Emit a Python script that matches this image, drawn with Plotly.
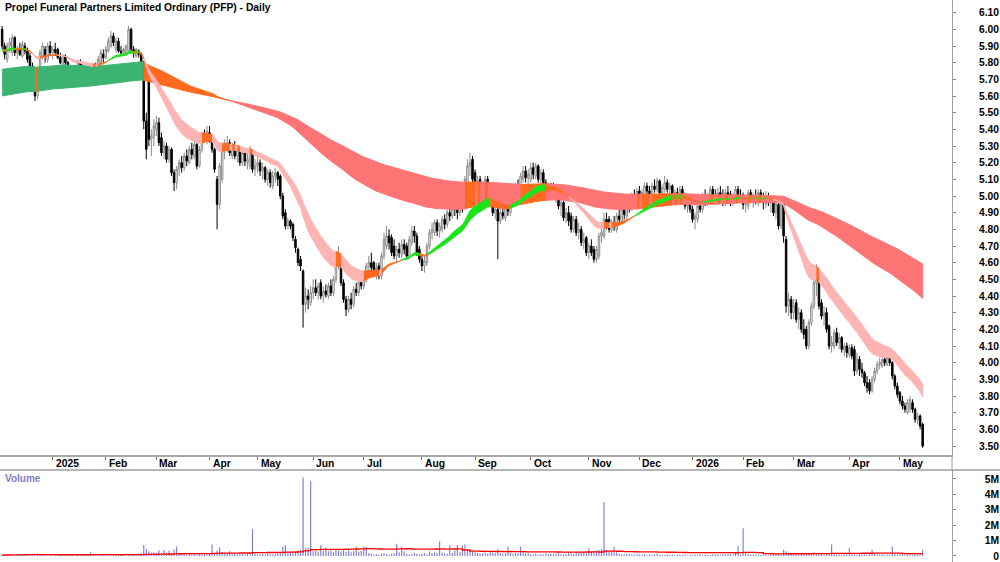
import pandas as pd
import numpy as np
import plotly.graph_objects as go

# ---------------- data ----------------
title_text = "Propel Funeral Partners Limited Ordinary (PFP) - Daily"
asx_holidays = ['2024-12-25', '2024-12-26', '2025-01-01', '2025-01-27', '2025-04-18', '2025-04-21',
                '2025-04-25', '2025-06-09', '2025-12-25', '2025-12-26', '2026-01-01', '2026-01-26',
                '2026-04-03', '2026-04-06']
first_day, last_day = '2024-12-02', '2026-05-14'

# daily (open, high, low, close) per month
ohlc_2024_12 = [(6.00,6.02,5.88,5.90),(5.90,5.92,5.82,5.85),(5.82,5.92,5.80,5.90),(5.90,5.95,5.86,5.92),(5.86,5.97,5.84,5.95),
                (5.95,5.96,5.84,5.86),(5.86,5.90,5.82,5.88),(5.88,5.92,5.84,5.85),(5.84,5.93,5.83,5.91),(5.90,5.92,5.85,5.87),
                (5.87,5.89,5.80,5.82),(5.84,5.86,5.76,5.78),(5.78,5.80,5.70,5.72),(5.72,5.74,5.57,5.60),(5.60,5.75,5.58,5.73),
                (5.74,5.88,5.72,5.86),(5.84,5.92,5.82,5.90),(5.88,5.90,5.80,5.84),(5.82,5.92,5.80,5.90),(5.90,5.93,5.84,5.86)]
ohlc_2025_01 = [(5.86,5.90,5.82,5.88),(5.88,5.92,5.84,5.86),(5.88,5.89,5.82,5.83),(5.83,5.86,5.79,5.80),(5.79,5.85,5.78,5.84),
                (5.84,5.85,5.78,5.80),(5.80,5.81,5.72,5.74),(5.75,5.76,5.68,5.70),(5.74,5.76,5.67,5.69),(5.69,5.78,5.68,5.76),
                (5.74,5.82,5.73,5.80),(5.80,5.82,5.74,5.76),(5.76,5.79,5.71,5.73),(5.73,5.78,5.71,5.76),(5.76,5.78,5.72,5.74),
                (5.77,5.79,5.72,5.73),(5.73,5.80,5.72,5.78),(5.78,5.80,5.75,5.77),(5.77,5.84,5.76,5.82),(5.80,5.88,5.79,5.86),
                (5.85,5.88,5.80,5.83)]
ohlc_2025_02 = [(5.83,5.90,5.82,5.88),(5.87,5.95,5.86,5.93),(5.90,5.99,5.89,5.96),(5.96,5.98,5.90,5.92),(5.88,5.95,5.86,5.93),
                (5.93,5.95,5.86,5.87),(5.87,5.90,5.84,5.86),(5.86,5.89,5.84,5.88),(5.86,5.91,5.85,5.90),(5.87,6.02,5.86,6.00),
                (6.00,6.01,5.86,5.88),(5.88,5.90,5.83,5.86),(5.84,5.89,5.83,5.88),(5.87,5.88,5.83,5.85),(5.85,5.86,5.76,5.78),
                (5.80,5.81,5.40,5.45),(5.45,5.50,5.22,5.28),(5.75,5.78,5.30,5.34),(5.34,5.40,5.24,5.36),(5.36,5.46,5.30,5.42)]
ohlc_2025_03 = [(5.40,5.48,5.36,5.44),(5.44,5.47,5.30,5.32),(5.35,5.38,5.24,5.26),(5.26,5.33,5.22,5.30),(5.30,5.32,5.20,5.22),
                (5.22,5.30,5.20,5.28),(5.28,5.29,5.12,5.14),(5.14,5.16,5.03,5.08),(5.08,5.18,5.04,5.16),(5.16,5.22,5.12,5.20),
                (5.20,5.24,5.14,5.17),(5.17,5.26,5.15,5.24),(5.24,5.28,5.18,5.21),(5.20,5.30,5.19,5.28),(5.28,5.32,5.22,5.25),
                (5.24,5.33,5.22,5.31),(5.31,5.32,5.16,5.18),(5.18,5.30,5.17,5.28),(5.28,5.38,5.26,5.36),(5.36,5.40,5.32,5.34),
                (5.33,5.42,5.31,5.39)]
ohlc_2025_04 = [(5.38,5.42,5.32,5.35),(5.35,5.37,5.26,5.28),(5.28,5.29,5.14,5.16),(5.10,5.12,4.80,4.95),(4.95,5.20,4.92,5.18),
                (5.10,5.30,5.08,5.27),(5.27,5.34,5.22,5.30),(5.30,5.36,5.26,5.32),(5.32,5.34,5.24,5.26),(5.24,5.32,5.22,5.30),
                (5.30,5.33,5.22,5.24),(5.24,5.30,5.20,5.28),(5.28,5.30,5.18,5.20),(5.20,5.28,5.18,5.26),(5.26,5.28,5.18,5.21),
                (5.20,5.26,5.16,5.22),(5.18,5.30,5.16,5.27),(5.27,5.28,5.14,5.16),(5.16,5.22,5.12,5.18)]
ohlc_2025_05 = [(5.18,5.24,5.14,5.20),(5.20,5.22,5.12,5.15),(5.15,5.20,5.10,5.17),(5.17,5.18,5.08,5.10),(5.10,5.16,5.06,5.14),
                (5.14,5.16,5.05,5.08),(5.06,5.15,5.04,5.12),(5.12,5.17,5.08,5.14),(5.14,5.15,5.06,5.10),(5.12,5.13,4.98,5.00),
                (5.00,5.02,4.86,4.88),(4.90,4.92,4.80,4.82),(4.82,4.87,4.80,4.85),(4.85,4.86,4.80,4.82),(4.83,4.84,4.73,4.75),
                (4.74,4.76,4.66,4.69),(4.68,4.69,4.58,4.60),(4.62,4.64,4.55,4.58),(4.55,4.56,4.21,4.35),(4.35,4.45,4.30,4.40),
                (4.40,4.44,4.32,4.38),(4.36,4.46,4.34,4.42)]
ohlc_2025_06 = [(4.42,4.50,4.38,4.45),(4.45,4.50,4.40,4.42),(4.42,4.48,4.38,4.46),(4.48,4.50,4.38,4.40),(4.40,4.46,4.36,4.43),
                (4.43,4.47,4.39,4.41),(4.40,4.48,4.38,4.46),(4.46,4.50,4.40,4.42),(4.42,4.52,4.40,4.50),(4.50,4.64,4.48,4.60),
                (4.60,4.70,4.56,4.62),(4.62,4.64,4.46,4.48),(4.48,4.50,4.36,4.38),(4.38,4.40,4.28,4.32),(4.32,4.40,4.30,4.38),
                (4.38,4.42,4.32,4.35),(4.35,4.46,4.33,4.44),(4.44,4.48,4.40,4.42),(4.42,4.50,4.40,4.48),(4.48,4.52,4.44,4.46)]
ohlc_2025_07 = [(4.46,4.54,4.44,4.52),(4.50,4.60,4.48,4.58),(4.58,4.64,4.54,4.60),(4.60,4.66,4.55,4.57),(4.60,4.61,4.52,4.54),
                (4.54,4.60,4.50,4.57),(4.58,4.60,4.50,4.52),(4.52,4.66,4.50,4.64),(4.64,4.78,4.62,4.74),(4.70,4.82,4.68,4.76),
                (4.76,4.80,4.68,4.72),(4.75,4.77,4.64,4.66),(4.70,4.74,4.62,4.64),(4.64,4.70,4.60,4.68),(4.68,4.72,4.63,4.66),
                (4.65,4.74,4.63,4.71),(4.71,4.74,4.65,4.68),(4.70,4.72,4.62,4.64),(4.64,4.76,4.62,4.74),(4.72,4.82,4.70,4.79),
                (4.79,4.82,4.72,4.76),(4.76,4.78,4.64,4.66),(4.68,4.70,4.60,4.62)]
ohlc_2025_08 = [(4.62,4.65,4.55,4.58),(4.58,4.64,4.54,4.61),(4.60,4.72,4.58,4.70),(4.70,4.80,4.68,4.78),(4.78,4.84,4.74,4.80),
                (4.78,4.86,4.76,4.84),(4.84,4.86,4.76,4.79),(4.79,4.84,4.75,4.82),(4.80,4.88,4.78,4.86),(4.86,4.89,4.80,4.83),
                (4.83,4.92,4.81,4.90),(4.90,4.94,4.85,4.88),(4.88,4.98,4.86,4.96),(4.96,4.98,4.88,4.92),(4.92,4.96,4.86,4.90),
                (4.90,4.98,4.88,4.96),(4.96,5.00,4.90,4.94),(4.94,5.12,4.92,5.10),(5.08,5.22,5.06,5.18),(5.18,5.26,5.12,5.20),
                (5.22,5.24,5.08,5.10)]
ohlc_2025_09 = [(5.14,5.16,5.02,5.05),(5.05,5.12,5.02,5.09),(5.10,5.12,5.00,5.02),(5.02,5.08,4.98,5.05),(5.00,5.12,4.98,5.10),
                (5.10,5.12,5.02,5.05),(5.06,5.08,4.94,4.96),(4.98,5.00,4.88,4.90),(4.90,4.96,4.86,4.92),(4.92,4.94,4.62,4.85),
                (4.85,4.94,4.83,4.90),(4.90,4.95,4.86,4.88),(4.87,4.96,4.85,4.94),(4.94,4.96,4.88,4.91),(4.90,5.00,4.88,4.98),
                (4.98,5.04,4.94,5.00),(4.98,5.08,4.96,5.06),(5.06,5.10,5.00,5.03),(5.02,5.14,5.00,5.12),(5.10,5.18,5.08,5.15),
                (5.15,5.18,5.08,5.11),(5.11,5.16,5.06,5.13)]
ohlc_2025_10 = [(5.10,5.20,5.08,5.17),(5.17,5.20,5.10,5.13),(5.12,5.20,5.10,5.18),(5.18,5.19,5.08,5.10),(5.10,5.16,5.06,5.14),
                (5.14,5.16,5.06,5.08),(5.08,5.10,5.00,5.02),(5.02,5.08,4.98,5.05),(5.05,5.08,5.00,5.03),(5.03,5.08,4.98,5.00),
                (4.98,5.06,4.96,5.04),(5.04,5.05,4.92,4.94),(4.94,4.98,4.88,4.96),(4.96,4.97,4.85,4.87),(4.87,4.93,4.84,4.90),
                (4.90,4.94,4.82,4.85),(4.88,4.90,4.78,4.80),(4.80,4.88,4.78,4.86),(4.86,4.88,4.76,4.78),(4.78,4.84,4.74,4.80),
                (4.80,4.82,4.70,4.72),(4.72,4.78,4.68,4.74),(4.75,4.76,4.64,4.66)]
ohlc_2025_11 = [(4.66,4.72,4.62,4.70),(4.70,4.74,4.64,4.66),(4.68,4.70,4.60,4.62),(4.62,4.70,4.60,4.68),(4.64,4.78,4.62,4.76),
                (4.76,4.82,4.72,4.78),(4.76,4.90,4.74,4.86),(4.86,4.90,4.80,4.84),(4.86,4.88,4.78,4.80),(4.80,4.86,4.78,4.84),
                (4.84,4.88,4.79,4.82),(4.80,4.90,4.78,4.88),(4.88,4.92,4.84,4.86),(4.85,4.94,4.84,4.92),(4.92,4.94,4.86,4.89),
                (4.88,4.98,4.86,4.96),(4.96,5.00,4.90,4.94),(4.93,5.02,4.91,5.00),(5.00,5.04,4.95,4.98),(4.97,5.05,4.95,5.03)]
ohlc_2025_12 = [(5.03,5.06,4.96,4.99),(4.99,5.04,4.95,5.02),(5.00,5.08,4.98,5.06),(5.06,5.08,5.00,5.03),(5.03,5.06,4.98,5.00),
                (5.00,5.08,4.98,5.06),(5.06,5.10,5.02,5.04),(5.04,5.11,5.02,5.09),(5.09,5.10,5.00,5.02),(5.02,5.07,4.98,5.05),
                (5.04,5.12,5.02,5.08),(5.08,5.10,5.02,5.04),(5.04,5.08,5.00,5.06),(5.06,5.07,4.98,5.00),(5.00,5.04,4.96,5.02),
                (5.02,5.05,4.96,4.98),(4.98,5.06,4.96,5.04),(5.04,5.06,4.98,5.00),(5.00,5.02,4.92,4.94),(4.94,4.98,4.90,4.96),
                (4.96,5.00,4.90,4.92)]
ohlc_2026_01 = [(4.92,4.94,4.84,4.86),(4.86,4.90,4.80,4.88),(4.86,4.96,4.84,4.94),(4.94,4.98,4.90,4.92),(4.92,5.02,4.90,5.00),
                (5.00,5.04,4.94,4.97),(4.97,5.02,4.94,5.00),(4.98,5.06,4.96,5.04),(5.04,5.06,4.98,5.00),(5.00,5.04,4.95,4.98),
                (4.97,5.05,4.95,5.02),(5.02,5.06,4.98,5.00),(5.00,5.04,4.94,4.96),(4.96,5.04,4.94,5.02),(5.02,5.06,4.98,5.00),
                (5.01,5.03,4.94,4.96),(4.96,5.02,4.94,5.00),(4.98,5.06,4.96,5.04),(5.04,5.06,4.98,5.00),(5.00,5.04,4.96,4.98)]
ohlc_2026_02 = [(4.98,5.02,4.92,4.95),(4.95,5.00,4.90,4.97),(4.94,5.04,4.92,5.02),(5.02,5.04,4.96,4.98),(4.98,5.02,4.93,5.00),
                (5.00,5.04,4.95,4.97),(4.96,5.04,4.94,5.02),(5.02,5.04,4.96,4.99),(4.99,5.02,4.92,4.96),(4.95,5.03,4.93,5.00),
                (5.00,5.02,4.94,4.96),(4.96,5.00,4.90,4.98),(4.98,5.00,4.88,4.90),(4.90,4.98,4.86,4.95),(4.95,4.96,4.80,4.82),
                (4.82,4.98,4.80,4.96),(4.96,4.97,4.72,4.76),(4.74,4.76,4.30,4.34),(4.34,4.42,4.28,4.38),(4.38,4.40,4.26,4.30)]
ohlc_2026_03 = [(4.30,4.38,4.26,4.34),(4.36,4.38,4.24,4.26),(4.26,4.33,4.20,4.30),(4.30,4.32,4.18,4.20),(4.20,4.26,4.14,4.17),
                (4.20,4.22,4.08,4.10),(4.10,4.26,4.08,4.24),(4.24,4.36,4.22,4.34),(4.34,4.52,4.32,4.48),(4.48,4.59,4.40,4.50),
                (4.50,4.52,4.32,4.34),(4.36,4.38,4.26,4.28),(4.28,4.34,4.22,4.30),(4.30,4.33,4.18,4.20),(4.22,4.23,4.08,4.10),
                (4.10,4.16,4.06,4.12),(4.10,4.20,4.08,4.18),(4.18,4.21,4.10,4.12),(4.12,4.18,4.08,4.15),(4.15,4.16,4.06,4.08),
                (4.08,4.12,4.04,4.10),(4.10,4.12,4.03,4.06)]
ohlc_2026_04 = [(4.05,4.11,4.03,4.09),(4.09,4.11,4.02,4.04),(4.08,4.10,3.92,3.95),(3.95,4.06,3.93,4.02),(4.02,4.04,3.92,3.96),
                (3.96,4.00,3.91,3.94),(3.94,3.95,3.86,3.88),(3.88,3.92,3.82,3.85),(3.88,3.90,3.81,3.83),(3.83,3.92,3.82,3.90),
                (3.90,3.97,3.88,3.95),(3.95,4.01,3.93,3.99),(3.99,4.03,3.96,4.00),(3.98,4.04,3.97,4.02),(4.02,4.04,3.98,4.00),
                (3.99,4.04,3.98,4.03),(4.03,4.04,3.98,4.00),(4.00,4.01,3.90,3.92),(3.92,3.93,3.84,3.86),(3.86,3.88,3.79,3.81)]
ohlc_2026_05 = [(3.82,3.83,3.75,3.77),(3.77,3.80,3.72,3.74),(3.74,3.76,3.70,3.72),(3.70,3.78,3.69,3.76),(3.72,3.80,3.70,3.78),
                (3.76,3.78,3.70,3.72),(3.72,3.73,3.64,3.66),(3.66,3.70,3.63,3.68),(3.68,3.69,3.60,3.62),(3.63,3.64,3.49,3.50)]

# daily volume, millions of shares, per month
vol_2024_12 = [0.06,0.08,0.05,0.10,0.07,0.05,0.12,0.06,0.09,0.15,0.08,0.11,0.07,0.14,0.16,0.06,0.09,0.05,0.03,0.07]
vol_2025_01 = [0.05,0.08,0.06,0.07,0.09,0.05,0.10,0.08,0.12,0.06,0.07,0.05,0.09,0.08,0.06,0.25,0.10,0.05,0.08,0.06,0.09]
vol_2025_02 = [0.07,0.09,0.06,0.08,0.05,0.10,0.07,0.12,0.06,0.08,0.15,0.09,0.07,0.10,0.18,0.71,0.45,0.30,0.22,0.25]
vol_2025_03 = [0.20,0.38,0.18,0.40,0.22,0.35,0.15,0.42,0.62,0.18,0.12,0.20,0.10,0.15,0.12,0.18,0.10,0.14,0.12,0.16,0.10]
vol_2025_04 = [0.15,0.74,0.20,0.35,0.56,0.25,0.15,0.20,0.30,0.12,0.18,0.10,0.15,0.12,0.10,0.14,0.12,1.75,0.15]
vol_2025_05 = [0.10,0.12,0.15,0.10,0.18,0.12,0.10,0.15,0.20,0.25,0.60,0.70,0.20,0.25,0.30,0.28,0.35,0.40,5.10,0.50,0.55,4.85]
vol_2025_06 = [0.30,0.35,0.28,0.70,0.32,0.55,0.30,0.38,0.25,0.40,0.35,0.30,0.42,0.28,0.35,0.25,0.30,0.60,0.28,0.32]
vol_2025_07 = [0.62,0.58,0.20,0.15,0.10,0.12,0.08,0.15,0.20,0.12,0.10,0.15,0.18,0.80,0.25,0.60,0.30,0.15,0.10,0.12,0.20,0.15,0.10]
vol_2025_08 = [0.15,0.20,0.12,0.30,0.18,0.25,0.20,0.95,0.22,0.18,0.15,0.70,0.20,0.35,0.72,0.25,0.68,0.75,0.40,0.35,0.30]
vol_2025_09 = [0.25,0.20,0.15,0.18,0.22,0.15,0.30,0.25,0.18,0.45,0.20,0.15,0.18,0.60,0.22,0.15,0.20,0.18,0.60,0.25,0.15,0.20]
vol_2025_10 = [0.12,0.10,0.15,0.08,0.12,0.10,0.18,0.12,0.15,0.10,0.14,0.20,0.12,0.10,0.15,0.22,0.18,0.12,0.25,0.30,0.22,0.28,0.20]
vol_2025_11 = [0.50,0.25,0.30,0.35,0.40,0.45,3.50,0.40,0.30,0.35,0.60,0.25,0.15,0.12,0.10,0.15,0.12,0.10,0.08,0.12]
vol_2025_12 = [0.10,0.08,0.12,0.06,0.10,0.08,0.12,0.15,0.08,0.10,0.06,0.12,0.08,0.10,0.05,0.08,0.12,0.06,0.10,0.04,0.08]
vol_2026_01 = [0.06,0.10,0.08,0.12,0.07,0.10,0.08,0.06,0.12,0.09,0.10,0.08,0.12,0.10,0.15,0.12,0.10,0.18,0.65,0.12]
vol_2026_02 = [1.80,0.25,0.15,0.10,0.12,0.08,0.10,0.06,0.08,0.10,0.05,0.08,0.10,0.12,0.15,0.10,0.40,0.30,0.20,0.15]
vol_2026_03 = [0.12,0.10,0.08,0.15,0.10,0.12,0.20,0.15,0.25,0.18,0.15,0.10,0.08,0.12,0.10,0.75,0.20,0.12,0.10,0.08,0.12,0.10]
vol_2026_04 = [0.50,0.12,0.10,0.08,0.12,0.15,0.10,0.08,0.12,0.40,0.15,0.10,0.08,0.12,0.06,0.10,0.08,0.60,0.15,0.10]
vol_2026_05 = [0.12,0.10,0.08,0.10,0.12,0.08,0.15,0.10,0.12,0.40]

# moving-average ribbon settings and their starting values read at the left edge
short_periods = (21, 30)
short_seed = (5.88, 5.87)
long_periods = (125, 210)
long_seed = (5.76, 5.60)
volume_ma_period = 63

price_ticks = [round(3.5 + 0.1 * k, 2) for k in range(27)]
volume_ticks = [0, 1, 2, 3, 4, 5]
volume_tick_text = ['0', '1M', '2M', '3M', '4M', '5M']

# ---------------- build series ----------------
months = [ohlc_2024_12, ohlc_2025_01, ohlc_2025_02, ohlc_2025_03, ohlc_2025_04, ohlc_2025_05, ohlc_2025_06,
          ohlc_2025_07, ohlc_2025_08, ohlc_2025_09, ohlc_2025_10, ohlc_2025_11, ohlc_2025_12, ohlc_2026_01,
          ohlc_2026_02, ohlc_2026_03, ohlc_2026_04, ohlc_2026_05]
vmonths = [vol_2024_12, vol_2025_01, vol_2025_02, vol_2025_03, vol_2025_04, vol_2025_05, vol_2025_06,
           vol_2025_07, vol_2025_08, vol_2025_09, vol_2025_10, vol_2025_11, vol_2025_12, vol_2026_01,
           vol_2026_02, vol_2026_03, vol_2026_04, vol_2026_05]
rows = [r for m in months for r in m]
opens = np.array([r[0] for r in rows]); highs = np.array([r[1] for r in rows])
lows = np.array([r[2] for r in rows]); closes = np.array([r[3] for r in rows])
volume = np.array([v for m in vmonths for v in m])

dates = pd.bdate_range(first_day, last_day, freq='C', holidays=asx_holidays)
n = len(dates)
assert n == len(rows) == len(volume), (n, len(rows), len(volume))
idx = np.arange(n)


def ema(values, period, seed):
    a = 2.0 / (period + 1)
    out = np.empty(len(values))
    prev = seed
    for i, v in enumerate(values):
        prev = seed if i == 0 else a * v + (1 - a) * prev
        out[i] = prev
    return out


s_fast = ema(closes, short_periods[0], short_seed[0])
s_slow = ema(closes, short_periods[1], short_seed[1])
l_fast = ema(closes, long_periods[0], long_seed[0])
l_slow = ema(closes, long_periods[1], long_seed[1])
vol_ma = pd.Series(volume).rolling(volume_ma_period, min_periods=1).mean().values


def slope_up(series, i):
    return series[i] >= (series[i - 1] if i > 0 else series[i])


def short_states(fast, slow):
    out = []
    for i in range(len(fast)):
        if fast[i] >= slow[i] and slope_up(fast, i):
            out.append('up')
        elif fast[i] < slow[i] and not slope_up(fast, i):
            out.append('down')
        else:
            out.append('mixed')
    return out


def long_states(fast, slow):
    out = []
    for i in range(len(fast)):
        if fast[i] >= slow[i]:
            out.append('up' if slope_up(slow, i) else 'mixed')
        else:
            out.append('mixed' if (slope_up(fast, i) and slope_up(slow, i)) else 'down')
    return out


fig = go.Figure()


def add_band(fast, slow, st, colors):
    upper = np.maximum(fast, slow)
    lower = np.minimum(fast, slow)
    s = 0
    while s < n:
        e = s
        while e + 1 < n and st[e + 1] == st[s]:
            e += 1
        stop = min(e + 2, n)
        xs = list(idx[s:stop]) + list(idx[s:stop][::-1])
        ys = list(upper[s:stop]) + list(lower[s:stop][::-1])
        c = colors[st[s]]
        fig.add_trace(go.Scatter(x=xs, y=ys, fill='toself', fillcolor=c, mode='lines',
                                 line=dict(color=c, width=1), hoverinfo='skip', showlegend=False,
                                 xaxis='x', yaxis='y'))
        s = e + 1


add_band(l_fast, l_slow, long_states(l_fast, l_slow), {'up': '#3CB371', 'mixed': '#FF6A1F', 'down': '#FF7474'})
add_band(s_fast, s_slow, short_states(s_fast, s_slow), {'up': '#19E619', 'mixed': '#FF6A1F', 'down': '#FFB4B4'})

fig.add_trace(go.Candlestick(x=idx, open=opens, high=highs, low=lows, close=closes,
                             increasing=dict(line=dict(color='#8A8A8A', width=1), fillcolor='#FFFFFF'),
                             decreasing=dict(line=dict(color='#000000', width=1), fillcolor='#000000'),
                             whiskerwidth=0, showlegend=False, hoverinfo='skip', xaxis='x', yaxis='y'))

fig.add_trace(go.Bar(x=idx, y=volume, marker=dict(color='#7C7CDC', line=dict(width=0)), width=0.45,
                     showlegend=False, hoverinfo='skip', xaxis='x2', yaxis='y2'))
fig.add_trace(go.Scatter(x=idx, y=vol_ma, mode='lines', line=dict(color='#FF0000', width=1.3, shape='hv'),
                         showlegend=False, hoverinfo='skip', xaxis='x2', yaxis='y2'))

# ---------------- layout ----------------
W, H = 1000, 562
axis_x = 952 / W
price_dom = [1 - 455 / H, 1]
vol_dom = [0, 1 - 470 / H]
font = "Liberation Sans, Arial, sans-serif"

month_starts = [i for i in range(1, n) if dates[i].month != dates[i - 1].month]
month_text = [str(dates[i].year) if dates[i].month == 1 else dates[i].strftime('%b') for i in month_starts]

xr = [-0.84, 375.6]
lab_font = dict(family=font, size=10.3, color='#000000')
fig.update_layout(
    width=W, height=H, margin=dict(l=0, r=0, t=0, b=0),
    paper_bgcolor='white', plot_bgcolor='white', showlegend=False, boxgap=0.15,
    xaxis=dict(domain=[0, axis_x], range=xr, anchor='y', showgrid=False, zeroline=False,
               showline=True, linecolor='#A8A8A8', linewidth=2, ticks='outside', ticklen=3,
               tickcolor='#707070', tickvals=month_starts, showticklabels=False,
               rangeslider=dict(visible=False), fixedrange=True),
    yaxis=dict(domain=price_dom, range=[3.446, 6.176], anchor='x', side='right', showgrid=False,
               zeroline=False, showline=True, linecolor='#A0A0A0', linewidth=1, ticks='outside',
               ticklen=3, tickcolor='#808080', tickvals=price_ticks, showticklabels=False),
    yaxis3=dict(overlaying='y', anchor='free', position=0.999, side='left', range=[3.446, 6.176],
                showgrid=False, zeroline=False, showline=False, ticks='', tickvals=price_ticks,
                ticktext=['<b>%.2f</b>' % v for v in price_ticks], tickfont=lab_font),
    xaxis2=dict(domain=[0, axis_x], range=xr, anchor='y2', matches='x', showgrid=False, zeroline=False,
                showline=False, showticklabels=False, ticks=''),
    yaxis2=dict(domain=vol_dom, range=[-0.39, 5.584], anchor='x2', side='right', showgrid=False,
                zeroline=False, showline=True, linecolor='#A0A0A0', linewidth=1, ticks='outside',
                ticklen=3, tickcolor='#808080', tickvals=volume_ticks, showticklabels=False),
    yaxis4=dict(overlaying='y2', anchor='free', position=0.999, side='left', range=[-0.39, 5.584],
                showgrid=False, zeroline=False, showline=False, ticks='', tickvals=volume_ticks,
                ticktext=['<b>%s</b>' % t for t in volume_tick_text], tickfont=lab_font),
)

# empty traces so the overlay label axes render
fig.add_trace(go.Scatter(x=[None], y=[None], xaxis='x', yaxis='y3', showlegend=False))
fig.add_trace(go.Scatter(x=[None], y=[None], xaxis='x2', yaxis='y4', showlegend=False))

shapes = [
    dict(type='line', xref='paper', yref='paper', x0=0, x1=1, y0=vol_dom[1], y1=vol_dom[1],
         line=dict(color='#6E6E6E', width=1.2)),
    dict(type='line', xref='paper', yref='paper', x0=axis_x, x1=axis_x, y0=vol_dom[1], y1=price_dom[0],
         line=dict(color='#A0A0A0', width=1)),
]
fig.update_layout(shapes=shapes)

ann = [dict(text='<b>%s</b>' % title_text, xref='paper', yref='paper', x=0.003, y=1 - 8 / H,
            xanchor='left', yanchor='middle', showarrow=False, font=dict(family=font, size=10.3, color='#000000')),
       dict(text='<b>Volume</b>', xref='paper', yref='paper', x=0.003, y=1 - 478 / H,
            xanchor='left', yanchor='middle', showarrow=False, font=dict(family=font, size=10, color='#8080C4'))]
for i, t in zip(month_starts, month_text):
    ann.append(dict(text='<b>%s</b>' % t, x=i, xref='x', y=1 - 463 / H, yref='paper', xanchor='left',
                    yanchor='middle', xshift=1, showarrow=False, font=lab_font))
fig.update_layout(annotations=ann)

fig.write_html("out.html", config=dict(displayModeBar=False, staticPlot=True))
